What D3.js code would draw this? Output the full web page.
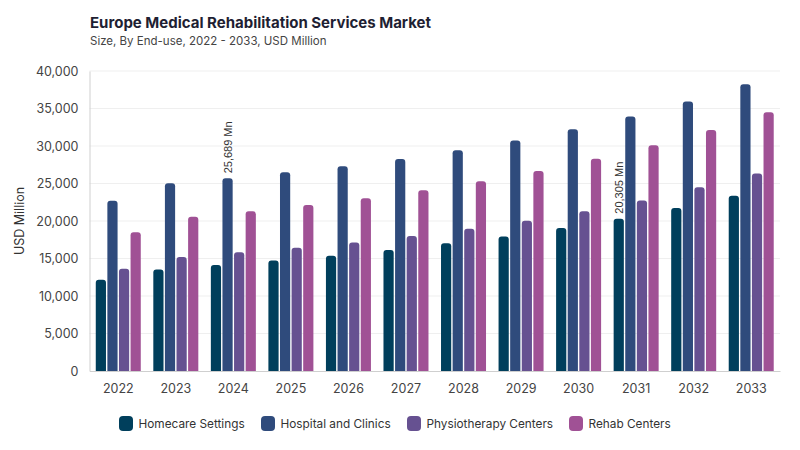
<!DOCTYPE html>
<html><head><meta charset="utf-8">
<script src="https://cdn.jsdelivr.net/npm/d3@7"></script>
<style>
html,body{margin:0;padding:0;background:#fff;}
svg{display:block;font-family:Inter,"DejaVu Sans",sans-serif;}
</style></head>
<body>
<svg id="chart" width="800" height="450"></svg>
<script>
const years = ["2022","2023","2024","2025","2026","2027","2028","2029","2030","2031","2032","2033"];
const seriesNames = ["Homecare Settings","Hospital and Clinics","Physiotherapy Centers","Rehab Centers"];
const homecare = [12170,13550,14130,14750,15370,16130,17020,17950,19060,20305,21730,23370];
const hospital = [22710,25020,25689,26490,27290,28260,29420,30750,32220,33950,35950,38220];
const physio   = [13640,15200,15820,16440,17150,18000,18970,20040,21290,22750,24490,26350];
const rehab    = [18490,20570,21290,22130,23020,24090,25290,26660,28310,30090,32130,34490];
const yTicks = [0,5000,10000,15000,20000,25000,30000,35000,40000];
const annotations = [{series:1, year:"2024", text:"25,689 Mn"},{series:0, year:"2031", text:"20,305 Mn"}];
const colors = ["#003f5c","#2f4b7c","#665191","#a05195"];

(function(){
const values = [homecare, hospital, physio, rehab];
const svg = d3.select("#chart");
const mLeft = 89.5, mRight = 780, mTop = 71, mBottom = 371;

const x0 = d3.scaleBand().domain(years).range([mLeft, mRight]).paddingInner(0).paddingOuter(0);
const groupW = 45;
const x1 = d3.scaleBand().domain(d3.range(4)).range([0, groupW]).paddingInner(0.12);
const y = d3.scaleLinear().domain([0,40000]).range([mBottom, mTop]);

svg.append("text").attr("x",90).attr("y",28).attr("font-size",15).attr("font-weight",700)
  .attr("fill","#1f1f33").text("Europe Medical Rehabilitation Services Market");
svg.append("text").attr("x",90).attr("y",45).attr("font-size",11.5).attr("fill","#444")
  .text("Size, By End-use, 2022 - 2033, USD Million");

svg.append("g").selectAll("line").data(yTicks.filter(d=>d>0)).join("line")
  .attr("x1",mLeft).attr("x2",mRight).attr("y1",d=>y(d)).attr("y2",d=>y(d))
  .attr("stroke","#efefef").attr("stroke-width",1);

const yAxis = svg.append("g").attr("transform",`translate(${mLeft},0)`)
  .call(d3.axisLeft(y).tickValues(yTicks).tickFormat(d3.format(",")).tickSize(0).tickPadding(11));
yAxis.select(".domain").attr("stroke","#cfcfcf");
yAxis.selectAll("text").attr("font-size",12.5).attr("fill","#444").attr("font-family","Inter, sans-serif");

svg.append("text").attr("transform","translate(24,221) rotate(-90)").attr("text-anchor","middle")
  .attr("font-size",12.5).attr("fill","#333").text("USD Million");

function topRounded(x, yTop, w, h, r){
  r = Math.min(r, h, w/2);
  return `M${x},${yTop+h} L${x},${yTop+r} Q${x},${yTop} ${x+r},${yTop} L${x+w-r},${yTop} Q${x+w},${yTop} ${x+w},${yTop+r} L${x+w},${yTop+h} Z`;
}
const groups = svg.append("g").selectAll("g").data(years).join("g")
  .attr("transform", d => `translate(${x0(d) + (x0.bandwidth()-groupW)/2},0)`);
groups.selectAll("path").data((yr,i) => values.map((arr,s)=>({s, v:arr[i]}))).join("path")
  .attr("d", d => topRounded(x1(d.s), y(d.v), x1.bandwidth(), mBottom - y(d.v), 3))
  .attr("fill", d => colors[d.s]);

const xAxis = svg.append("g").attr("transform",`translate(0,${mBottom})`)
  .call(d3.axisBottom(x0).tickSize(0).tickPadding(13));
xAxis.select(".domain").attr("stroke","#cfcfcf");
xAxis.selectAll("text").attr("font-size",12.5).attr("fill","#444").attr("font-family","Inter, sans-serif");

annotations.forEach(a => {
  const i = years.indexOf(a.year);
  const v = values[a.series][i];
  const cx = x0(a.year) + (x0.bandwidth()-groupW)/2 + x1(a.series) + x1.bandwidth()/2;
  svg.append("text").attr("transform",`translate(${cx+4},${y(v)-5}) rotate(-90)`)
    .attr("font-size",11).attr("fill","#333").attr("font-family","Liberation Sans, Arial, sans-serif")
    .text(a.text);
});

const legendX = [119, 261, 407, 569];
const lg = svg.append("g").selectAll("g").data(seriesNames).join("g")
  .attr("transform",(d,i)=>`translate(${legendX[i]},416)`);
lg.append("rect").attr("width",14).attr("height",15).attr("rx",4).attr("fill",(d,i)=>colors[i]);
lg.append("text").attr("x",19.5).attr("y",12).attr("font-size",11.8).attr("fill","#333").text(d=>d);
})();
</script>
</body></html>
